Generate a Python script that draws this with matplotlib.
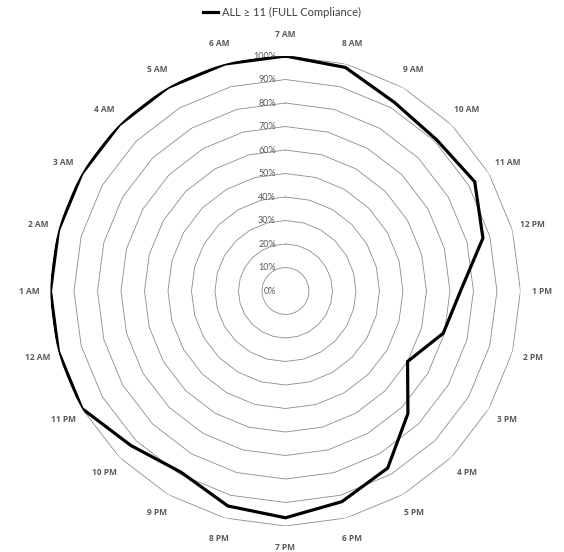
import numpy as np
import matplotlib.pyplot as plt

hours = ['7 AM', '8 AM', '9 AM', '10 AM', '11 AM', '12 PM', '1 PM', '2 PM',
         '3 PM', '4 PM', '5 PM', '6 PM', '7 PM', '8 PM', '9 PM', '10 PM',
         '11 PM', '12 AM', '1 AM', '2 AM', '3 AM', '4 AM', '5 AM', '6 AM']
full_compliance = [100, 98.5, 92.7, 91, 93, 87, 74.5, 69.5,
                   60, 73.7, 87, 92.8, 96.5, 94.7, 89, 93,
                   100, 100, 100, 100, 100, 100, 100, 100]
ring_levels = [0, 10, 20, 30, 40, 50, 60, 70, 80, 90, 100]
series_name = 'ALL ≥ 11 (FULL Compliance)'

fonts = ['Lato', 'DejaVu Sans']
bold_fonts = ['Open Sans', 'DejaVu Sans']
txt_col = '#595959'

n = len(hours)
angles = np.linspace(0, 2 * np.pi, n, endpoint=False)
ang_closed = np.append(angles, angles[0])

fig = plt.figure(figsize=(5.64, 5.52), dpi=100)
ax = fig.add_axes([0.0895, 0.0471, 0.8333, 0.8514], projection='polar')
ax.set_theta_zero_location('N')
ax.set_theta_direction(-1)
ax.set_ylim(0, 100)
ax.grid(False)
ax.spines['polar'].set_visible(False)
ax.set_xticks([])
ax.set_yticks([])

# polygon grid rings
for lvl in ring_levels[1:]:
    ax.plot(ang_closed, [lvl] * (n + 1), color='#8c8c8c', lw=0.6, zorder=1)

# radial axis labels
for lvl in ring_levels:
    ax.annotate(f'{lvl}%', xy=(0, lvl), xytext=(-7, 0), textcoords='offset points',
                ha='right', va='center', fontsize=6.5, color=txt_col, family=fonts,
                zorder=3)

# category labels
for a, h in zip(angles, hours):
    ax.text(a, 109, h, ha='center', va='center', fontsize=6, fontweight='bold',
            color=txt_col, family=bold_fonts)

vals = np.append(full_compliance, full_compliance[0])
line, = ax.plot(ang_closed, vals, color='black', lw=2.3, zorder=4,
                solid_joinstyle='miter', label=series_name)

leg = fig.legend(handles=[line], loc='upper center', bbox_to_anchor=(0.5, 1.005),
                 frameon=False, prop={'family': fonts, 'size': 8},
                 handlelength=1.3, handletextpad=0.4)
for t in leg.get_texts():
    t.set_color('#404040')

fig.savefig('out.png', dpi=100)
